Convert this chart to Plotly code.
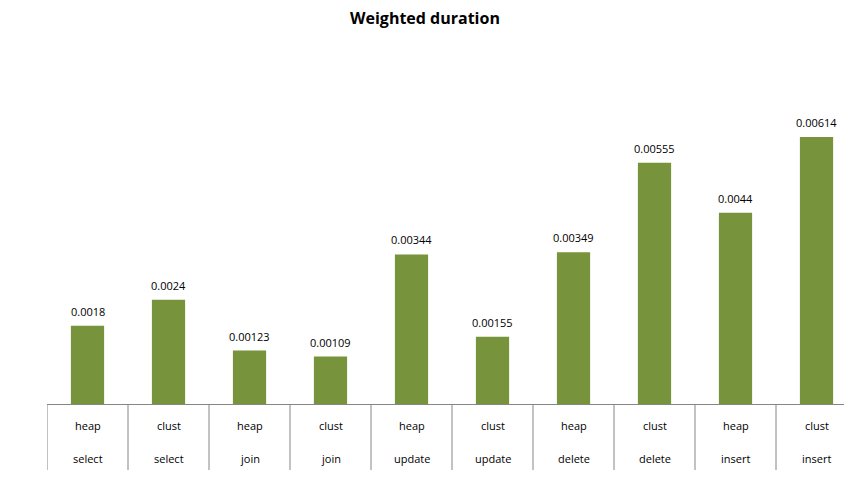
import plotly.graph_objects as go

variants = ["heap", "clust", "heap", "clust", "heap", "clust", "heap", "clust", "heap", "clust"]
operations = ["select", "select", "join", "join", "update", "update", "delete", "delete", "insert", "insert"]
values = [0.0018, 0.0024, 0.00123, 0.00109, 0.00344, 0.00155, 0.00349, 0.00555, 0.0044, 0.00614]
labels = ["0.0018", "0.0024", "0.00123", "0.00109", "0.00344", "0.00155", "0.00349", "0.00555", "0.0044", "0.00614"]

xs = list(range(len(values)))
FONT = "Open Sans, DejaVu Sans, sans-serif"

W, H = 844, 469
L, R, T, B = 39, 0, 70, 73
cat_px = 81.0
plot_h = H - T - B
x_hi = -0.5 + (W - L - R) / cat_px

fig = go.Figure()
fig.add_trace(go.Bar(
    x=xs, y=values, width=0.41,
    marker=dict(color="#77933C", line=dict(width=0)),
    hoverinfo="skip",
))

shapes = []
for i in range(len(values)):
    shapes.append(dict(type="line", xref="x", yref="paper",
                       x0=i - 0.5, x1=i - 0.5, y0=0, y1=-66 / plot_h,
                       line=dict(color="#868686", width=1)))

annotations = []
for i in xs:
    annotations.append(dict(x=i, y=values[i], xref="x", yref="y", yshift=5, text=labels[i],
                            showarrow=False, yanchor="bottom",
                            font=dict(family=FONT, size=11, color="#000")))
    annotations.append(dict(x=i, y=0, xref="x", yref="paper", yshift=-21, text=variants[i],
                            showarrow=False, yanchor="middle",
                            font=dict(family=FONT, size=11, color="#000")))
    annotations.append(dict(x=i, y=0, xref="x", yref="paper", yshift=-54, text=operations[i],
                            showarrow=False, yanchor="middle",
                            font=dict(family=FONT, size=11, color="#000")))

fig.update_layout(
    width=W, height=H,
    margin=dict(l=L, r=R, t=T, b=B),
    plot_bgcolor="white", paper_bgcolor="white",
    showlegend=False,
    title=dict(text="<b>Weighted duration</b>", x=(425 - 8) / W, xref="container", xanchor="center",
               y=1 - 10 / H, yref="container", yanchor="middle",
               font=dict(family=FONT, size=16, color="#000")),
    xaxis=dict(range=[-0.5, x_hi], showticklabels=False, showgrid=False, zeroline=False,
               showline=True, linecolor="#868686", linewidth=1, ticks="", fixedrange=True),
    yaxis=dict(range=[0, 0.0075], visible=False, showgrid=False, zeroline=False),
    shapes=shapes, annotations=annotations,
)

fig.write_html("out.html")
